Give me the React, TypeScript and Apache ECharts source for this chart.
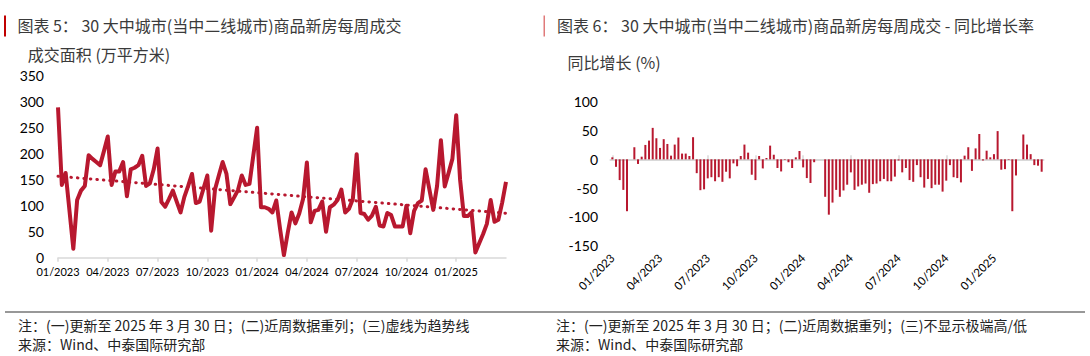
import React, { useEffect, useRef } from "react";
import * as echarts from "echarts";

// ---- data ----
const START_DATE = "2023-01-01"; // first weekly observation (Sunday)
const WEEK_COUNT = 118; // through 2025-03-30

const quarterStarts = [
  "2023-01-01", "2023-04-01", "2023-07-01", "2023-10-01",
  "2024-01-01", "2024-04-01", "2024-07-01", "2024-10-01", "2025-01-01",
];
const quarterLabels = [
  "01/2023", "04/2023", "07/2023", "10/2023",
  "01/2024", "04/2024", "07/2024", "10/2024", "01/2025",
];

// weekly transaction area (10k sqm)
const areaValues = [
  289, 140, 163, 90, 17, 111, 129, 138, 197, 190,
  184, 178, 205, 233, 140, 166, 166, 184, 118, 170,
  173, 178, 196, 138, 143, 170, 210, 107, 98, 113,
  129, 108, 87, 117, 138, 161, 105, 108, 133, 158,
  52, 131, 158, 184, 161, 103, 116, 130, 158, 140,
  142, 196, 250, 97, 97, 94, 87, 110, 55, 5,
  48, 87, 66, 85, 113, 183, 68, 90, 92, 108,
  50, 97, 102, 111, 131, 87, 94, 113, 199, 86,
  84, 73, 81, 98, 62, 60, 86, 82, 60, 60,
  60, 100, 47, 90, 105, 110, 170, 131, 92, 138,
  226, 137, 163, 190, 274, 151, 80, 80, 87, 10,
  28, 45, 65, 111, 69, 73, 106, 146,
];

// weekly YoY growth (%), extremes not shown (null)
const yoyValues: (number | null)[] = [
  3.5, -13, -36, -53, -90, null, 21, -8, 4.6, 25,
  32.5, 54.6, 36.6, 19.8, 35, 26.7, 6.4, 25.6, 37.8, 10,
  10, 5.8, 38.4, -24, -53.5, -52, -33, -31, -38, -31,
  -39, -21.5, -33, -7, -12, 5.8, 25.6, 11.6, -26.7, -36,
  5.8, -15.7, 2.3, 23.8, 8, -15, -21, -1, -5, -15,
  3.5, 14.5, -14, -32.5, -41, -5, null, null, -65, -96,
  -75, -53, -65, -54, -44, -22.6, -53, -47, -44, -42,
  -58, -43, -42, -38, -34, -38, -38, -30, -2, -22.6,
  -15, -36, -39, -10, -31, -49, -34, -50, -44, -44,
  -56, -37, -10, -31, -32.5, -40, 6.4, 21, -20, 19,
  44, -2, 15, 3.5, 9, 49, -18, -17, -1, -90,
  -28, null, 43, 25.6, 9, -10, -11, -21.5,
];

const leftYTicks = { min: 0, max: 350, interval: 50 };
const rightYTicks = { min: -150, max: 100, interval: 50 };

const title5 = "图表 5： 30 大中城市(当中二线城市)商品新房每周成交";
const unit5 = "成交面积 (万平方米)";
const title6 = "图表 6： 30 大中城市(当中二线城市)商品新房每周成交 - 同比增长率";
const unit6 = "同比增长 (%)";
const note5 = "注：(一)更新至 2025 年 3 月 30 日；(二)近周数据重列；(三)虚线为趋势线";
const note6 = "注：(一)更新至 2025 年 3 月 30 日；(二)近周数据重列；(三)不显示极端高/低";
const source = "来源：Wind、中泰国际研究部";

// ---- derived ----
const DAY = 86400000;
const startMs = Date.parse(START_DATE + "T00:00:00Z");
const weekDates: string[] = Array.from({ length: WEEK_COUNT }, (_, i) =>
  new Date(startMs + i * 7 * DAY).toISOString().slice(0, 10)
);
const labelAt = new Map<number, string>();
quarterStarts.forEach((q, k) => {
  const qm = Date.parse(q + "T00:00:00Z");
  let best = 0;
  let bestD = Infinity;
  weekDates.forEach((d, i) => {
    const dd = Math.abs(Date.parse(d + "T00:00:00Z") - qm);
    if (dd < bestD) {
      bestD = dd;
      best = i;
    }
  });
  labelAt.set(best, quarterLabels[k]);
});

// least-squares trend line (as Excel's linear trendline)
const n = areaValues.length;
const mx = (n - 1) / 2;
const my = areaValues.reduce((a, b) => a + b, 0) / n;
let sxy = 0;
let sxx = 0;
areaValues.forEach((v, i) => {
  sxy += (i - mx) * (v - my);
  sxx += (i - mx) * (i - mx);
});
const slope = sxy / sxx;
const trendValues = areaValues.map((_, i) => +(my + slope * (i - mx)).toFixed(2));

const RED = "#B8182F";
const NUM_FONT = "Lato, 'Noto Sans', sans-serif";
const CJK_FONT = "'Noto Sans CJK SC', 'Noto Sans', sans-serif";
const showIdx = (i: number) => labelAt.has(i);

const noteStyle = (text: string) => ({
  text,
  fontSize: 14,
  lineHeight: 15,
  fontFamily: CJK_FONT,
  fill: "#222",
  verticalAlign: "middle",
});

export default function App() {
  const ref = useRef<HTMLDivElement>(null);
  useEffect(() => {
    document.body.style.margin = "0";
    if (!ref.current) return;
    const chart = echarts.init(ref.current, undefined, { renderer: "svg" });
    const option: any = {
      animation: false,
      backgroundColor: "#ffffff",
      grid: [
        { left: 58, width: 448, top: 75.7, height: 182, containLabel: false },
        { left: 610.5, width: 433, top: 101.7, height: 144.1, containLabel: false },
      ],
      xAxis: [
        {
          type: "category",
          gridIndex: 0,
          data: weekDates,
          boundaryGap: false,
          axisLine: { lineStyle: { color: "#D9D9D9", width: 1.5 } },
          axisTick: { show: true, interval: showIdx, length: 4, lineStyle: { color: "#D9D9D9", width: 1.5 } },
          axisLabel: {
            interval: showIdx,
            formatter: (_v: string, i: number) => labelAt.get(i) || "",
            fontSize: 11,
            fontFamily: NUM_FONT,
            color: "#000",
            margin: 8,
          },
          splitLine: { show: false },
        },
        {
          type: "category",
          gridIndex: 1,
          data: weekDates,
          boundaryGap: true,
          axisLine: { show: false, onZero: false },
          axisTick: { show: false },
          axisLabel: {
            interval: showIdx,
            formatter: (_v: string, i: number) => labelAt.get(i) || "",
            rotate: 45,
            fontSize: 11.5,
            fontFamily: NUM_FONT,
            color: "#000",
            margin: 10,
          },
          splitLine: { show: false },
        },
        {
          type: "category",
          gridIndex: 1,
          data: weekDates,
          boundaryGap: true,
          axisLine: { show: true, onZero: true, lineStyle: { color: "#D9D9D9", width: 2 } },
          axisTick: { show: true, interval: showIdx, alignWithLabel: true, length: 4, lineStyle: { color: "#D9D9D9", width: 1.5 } },
          axisLabel: { show: false },
          splitLine: { show: false },
        },
      ],
      yAxis: [
        {
          type: "value",
          gridIndex: 0,
          ...leftYTicks,
          axisLine: { show: false },
          axisTick: { show: false },
          splitLine: { show: false },
          axisLabel: { fontSize: 14, fontFamily: NUM_FONT, color: "#000", margin: 14 },
        },
        {
          type: "value",
          gridIndex: 1,
          ...rightYTicks,
          axisLine: { show: false },
          axisTick: { show: false },
          splitLine: { show: false },
          axisLabel: { fontSize: 14, fontFamily: NUM_FONT, color: "#000", margin: 12.5 },
        },
      ],
      series: [
        {
          type: "line",
          xAxisIndex: 0,
          yAxisIndex: 0,
          data: trendValues,
          symbol: "none",
          lineStyle: { color: RED, width: 3, type: [0.5, 6], cap: "round" },
          z: 2,
        },
        {
          type: "line",
          xAxisIndex: 0,
          yAxisIndex: 0,
          data: areaValues,
          symbol: "none",
          lineStyle: { color: RED, width: 4, join: "round" },
          z: 3,
        },
        {
          type: "bar",
          xAxisIndex: 1,
          yAxisIndex: 1,
          data: yoyValues,
          barWidth: 2,
          itemStyle: { color: RED },
          z: 3,
        },
      ],
      graphic: [
        { type: "rect", shape: { x: 4, y: 15.5, width: 2, height: 21 }, style: { fill: "#C00000" } },
        { type: "rect", shape: { x: 543.5, y: 15.5, width: 1.5, height: 21 }, style: { fill: "#E07A7A" } },
        {
          type: "text", x: 17.4, y: 25,
          style: { text: title5, fontSize: 16, fontFamily: CJK_FONT, fill: "#3a3a3a", verticalAlign: "middle" },
        },
        {
          type: "text", x: 27.8, y: 54,
          style: { text: unit5, fontSize: 16, fontFamily: CJK_FONT, fill: "#3a3a3a", verticalAlign: "middle" },
        },
        {
          type: "text", x: 557, y: 25,
          style: { text: title6, fontSize: 16, fontFamily: CJK_FONT, fill: "#3a3a3a", verticalAlign: "middle" },
        },
        {
          type: "text", x: 567.6, y: 62,
          style: { text: unit6, fontSize: 16, fontFamily: CJK_FONT, fill: "#3a3a3a", verticalAlign: "middle" },
        },
        { type: "rect", shape: { x: 5, y: 311.5, width: 1080, height: 1 }, style: { fill: "#333" } },
        { type: "text", x: 18, y: 325, style: noteStyle(note5) },
        { type: "text", x: 18, y: 344, style: noteStyle(source) },
        { type: "text", x: 556, y: 325, style: noteStyle(note6) },
        { type: "text", x: 556, y: 344, style: noteStyle(source) },
      ],
    };
    chart.setOption(option);
    return () => chart.dispose();
  }, []);
  return <div ref={ref} style={{ width: 1090, height: 356 }} />;
}
